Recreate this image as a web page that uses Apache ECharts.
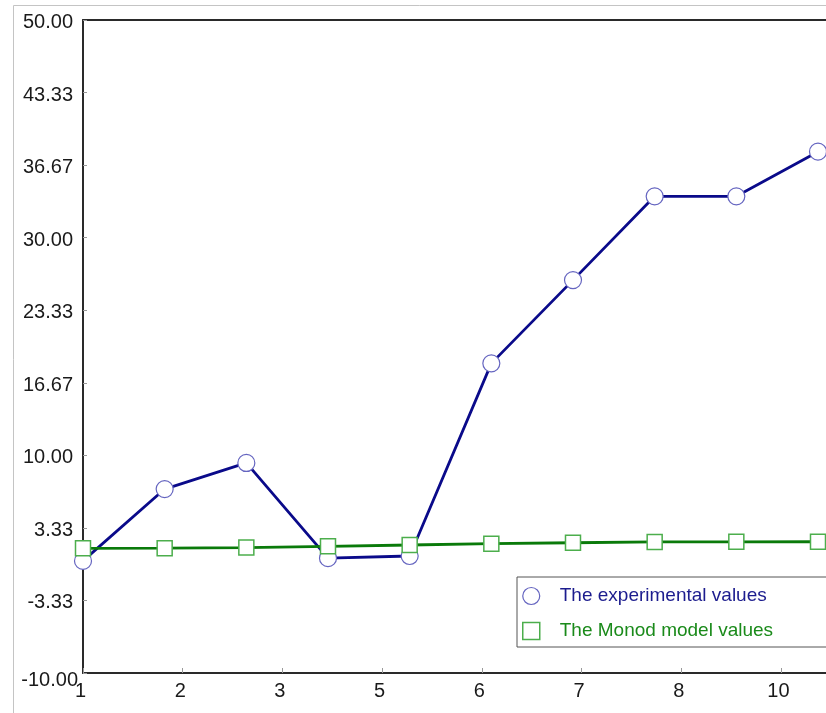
<!DOCTYPE html>
<html>
<head>
<meta charset="utf-8">
<script src="https://cdn.jsdelivr.net/npm/echarts@6/dist/echarts.min.js"></script>
<style>html,body{margin:0;padding:0;background:#fff;}#c{width:826px;height:713px;}</style>
</head>
<body>
<div id="c"></div>
<script>
const xValues = [1, 2, 3, 4, 5, 6, 7, 8, 9, 10];
const experimental = [0.3, 6.9, 9.3, 0.55, 0.75, 18.45, 26.1, 33.8, 33.8, 37.9];
const monod = [1.46, 1.47, 1.52, 1.64, 1.76, 1.88, 1.97, 2.04, 2.05, 2.06];
const xTickValues = [1, 2.221, 3.442, 4.662, 5.883, 7.104, 8.325, 9.546];
const xTickLabels = ["1", "2", "3", "5", "6", "7", "8", "10"];
const yTickValues = [-10, -3.3333, 3.3333, 10, 16.6667, 23.3333, 30, 36.6667, 43.3333, 50];
const yTickLabels = ["-10.00", "-3.33", "3.33", "10.00", "16.67", "23.33", "30.00", "36.67", "43.33", "50.00"];
const seriesNames = ["The experimental values", "The Monod model values"];

const chart = echarts.init(document.getElementById('c'), null, {renderer: 'canvas'});
const font = 'Liberation Sans, Arial, sans-serif';
const xLabelMap = {};
xTickValues.forEach((v, i) => xLabelMap[v.toFixed(3)] = xTickLabels[i]);
const yLabelMap = {};
yTickValues.forEach((v, i) => yLabelMap[v.toFixed(3)] = {text: yTickLabels[i], first: i === 0});
const xMin = 1, xMax = 10.098;

chart.setOption({
  animation: false,
  backgroundColor: '#fff',
  graphic: [{
    type: 'polyline',
    shape: {points: [[13.5, 713], [13.5, 5.5], [826, 5.5]]},
    style: {stroke: '#c4c4c4', lineWidth: 1, fill: null},
    silent: true
  }],
  grid: {left: 83, top: 20, right: 0, bottom: 40, show: false},
  xAxis: [{
    type: 'value', min: xMin, max: xMax,
    splitLine: {show: false},
    axisLine: {show: true, onZero: false, lineStyle: {color: '#2a2a2a', width: 2}},
    axisTick: {show: true, inside: true, length: 5, lineStyle: {color: '#999'}, customValues: xTickValues},
    axisLabel: {
      customValues: xTickValues,
      color: '#1a1a1a', fontSize: 20, fontFamily: font, margin: 8,
      padding: [0, 5, 0, 0],
      formatter: v => xLabelMap[Number(v).toFixed(3)] || ''
    }
  }, {
    type: 'value', position: 'top', min: xMin, max: xMax,
    splitLine: {show: false},
    axisLine: {show: true, onZero: false, lineStyle: {color: '#2a2a2a', width: 2}},
    axisTick: {show: false}, axisLabel: {show: false}
  }],
  yAxis: {
    type: 'value', min: -10, max: 50,
    splitLine: {show: false},
    axisLine: {show: true, onZero: false, lineStyle: {color: '#2a2a2a', width: 2}},
    axisTick: {show: true, inside: true, length: 4, lineStyle: {color: '#999'}, customValues: yTickValues},
    axisLabel: {
      customValues: yTickValues,
      color: '#1a1a1a', fontSize: 20, fontFamily: font, margin: 5,
      formatter: v => {
        const e = yLabelMap[Number(v).toFixed(3)];
        if (!e) return '';
        return e.first ? '{low|' + e.text + '}' : '{n|' + e.text + '}';
      },
      rich: {
        n: {fontSize: 20, fontFamily: font, color: '#1a1a1a', padding: [5, 5, 0, 0]},
        low: {fontSize: 20, fontFamily: font, color: '#1a1a1a', padding: [14, 0, 0, 0]}
      }
    }
  },
  legend: {
    orient: 'vertical',
    left: 517, top: 577,
    backgroundColor: '#fff',
    borderColor: '#555', borderWidth: 1, borderRadius: 0,
    padding: [9, 55, 6, 5],
    itemWidth: 17, itemHeight: 17, itemGap: 15,
    textStyle: {fontSize: 19, lineHeight: 20, fontFamily: font, padding: [0, 0, 0, 15]},
    data: [
      {name: seriesNames[0], icon: 'circle', itemStyle: {color: '#fff', borderColor: '#6565c0', borderWidth: 1.2}, textStyle: {color: '#1c1c8e'}},
      {name: seriesNames[1], icon: 'rect', itemStyle: {color: '#fff', borderColor: '#4cae4c', borderWidth: 1.5}, textStyle: {color: '#1a8a1a'}}
    ]
  },
  series: [
    {
      name: seriesNames[0], type: 'line', xAxisIndex: 0,
      data: xValues.map((x, i) => [x, experimental[i]]),
      symbol: 'circle', symbolSize: 17, showAllSymbol: true,
      lineStyle: {color: '#0a0a8a', width: 2.8},
      itemStyle: {color: '#fff', borderColor: '#6565c0', borderWidth: 1.2},
      emphasis: {disabled: true}
    },
    {
      name: seriesNames[1], type: 'line', xAxisIndex: 0,
      data: xValues.map((x, i) => [x, monod[i]]),
      symbol: 'rect', symbolSize: 15, showAllSymbol: true,
      lineStyle: {color: '#0a7a0a', width: 2.8},
      itemStyle: {color: '#fff', borderColor: '#4cae4c', borderWidth: 1.5},
      emphasis: {disabled: true}
    }
  ]
});
</script>
</body>
</html>
